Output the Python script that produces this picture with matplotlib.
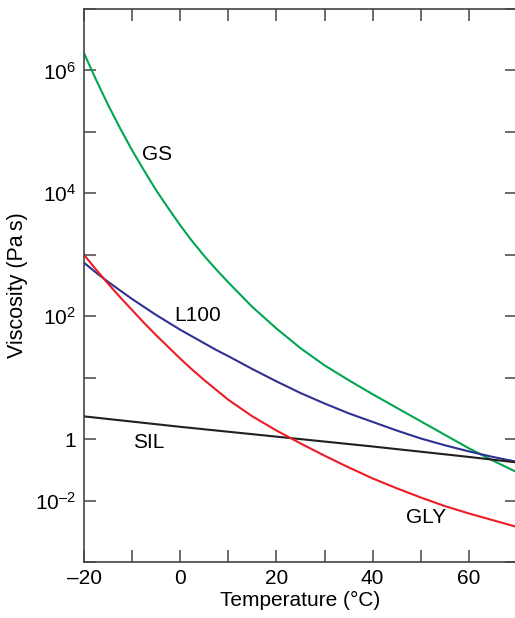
import matplotlib
matplotlib.use('Agg')
import matplotlib.pyplot as plt
from matplotlib.ticker import FixedLocator, FixedFormatter, NullLocator
import numpy as np

plt.rcParams['font.family'] = ['Liberation Sans', 'DejaVu Sans']
plt.rcParams['mathtext.fontset'] = 'custom'
plt.rcParams['mathtext.rm'] = 'Liberation Sans'
plt.rcParams['mathtext.it'] = 'Liberation Sans'

# temperature (deg C) and log10 of viscosity
temp = [-20, -17.5, -15, -12.5, -10, -7.5, -5, -2.5, 0, 2.5, 5, 7.5, 10,
        15, 20, 25, 30, 35, 40, 45, 50, 55, 60, 65, 70]
gs_exp = [6.28, 5.85, 5.44, 5.06, 4.70, 4.37, 4.05, 3.76, 3.48, 3.22, 2.98, 2.76, 2.55,
          2.15, 1.80, 1.48, 1.20, 0.96, 0.73, 0.51, 0.29, 0.07, -0.15, -0.35, -0.54]
l100_exp = [2.87, 2.71, 2.56, 2.42, 2.28, 2.15, 2.02, 1.90, 1.78, 1.67, 1.56, 1.45, 1.35,
            1.14, 0.94, 0.75, 0.58, 0.42, 0.28, 0.14, 0.01, -0.10, -0.20, -0.29, -0.37]
gly_exp = [3.00, 2.76, 2.53, 2.31, 2.10, 1.89, 1.69, 1.50, 1.31, 1.13, 0.96, 0.80, 0.64,
           0.37, 0.14, -0.07, -0.27, -0.46, -0.64, -0.80, -0.95, -1.09, -1.21, -1.32, -1.43]
sil_temp = [-20, 0, 20, 40, 60, 70]
sil_exp = [0.37, 0.20, 0.04, -0.12, -0.29, -0.38]

names = ['GS', 'L100', 'SIL', 'GLY']
colors = ['#00a651', '#2e3192', '#231f20', '#ed1c24']
label_pos = [(-4.8, 10**4.63), (3.7, 10**2.01), (-6.5, 10**-0.06), (51.1, 10**-1.28)]

xticks = [-20, -10, 0, 10, 20, 30, 40, 50, 60, 70]
xticklabels = ['\u201320', '', '0', '', '20', '', '40', '', '60', '']
ytick_vals = [1e-2, 1e-1, 1, 1e1, 1e2, 1e3, 1e4, 1e5, 1e6, 1e7]
ytick_labels = ['', '$10^{\u20132}$', '1', '', '$10^{2}$', '', '$10^{4}$', '', '$10^{6}$', '']

fig = plt.figure(figsize=(5.15, 6.18), dpi=100)
ax = fig.add_axes([84/515, 1 - 562/618, 433/515, 553/618])

ax.plot(temp, 10**np.array(gs_exp), color=colors[0], lw=1.5)
ax.plot(temp, 10**np.array(l100_exp), color=colors[1], lw=1.5)
ax.plot(sil_temp, 10**np.array(sil_exp), color=colors[2], lw=1.5)
ax.plot(temp, 10**np.array(gly_exp), color=colors[3], lw=1.5)

for name, (tx, ty) in zip(names, label_pos):
    ax.text(tx, ty, name, fontsize=15, ha='center', va='center')

ax.set_yscale('log')
ax.set_xlim(-20, 70)
ax.set_ylim(1e-2, 1e7)
ax.xaxis.set_major_locator(FixedLocator(xticks))
ax.xaxis.set_major_formatter(FixedFormatter(xticklabels))
ax.yaxis.set_major_locator(FixedLocator(ytick_vals))
ax.yaxis.set_major_formatter(FixedFormatter(ytick_labels))
ax.yaxis.set_minor_locator(NullLocator())

ax.tick_params(axis='both', which='major', direction='in', length=8.5, width=1.1,
               color='#444444', labelsize=15, top=True, right=True)
ax.tick_params(axis='x', pad=5)
ax.tick_params(axis='y', pad=6)
for s in ax.spines.values():
    s.set_color('#444444')
    s.set_linewidth(1.2)

ax.set_xlabel('Temperature (\u00b0C)', fontsize=15, labelpad=2)
ax.set_ylabel('Viscosity (Pa\u2009s)', fontsize=15.5, labelpad=5)

fig.savefig('out.png', dpi=100)
